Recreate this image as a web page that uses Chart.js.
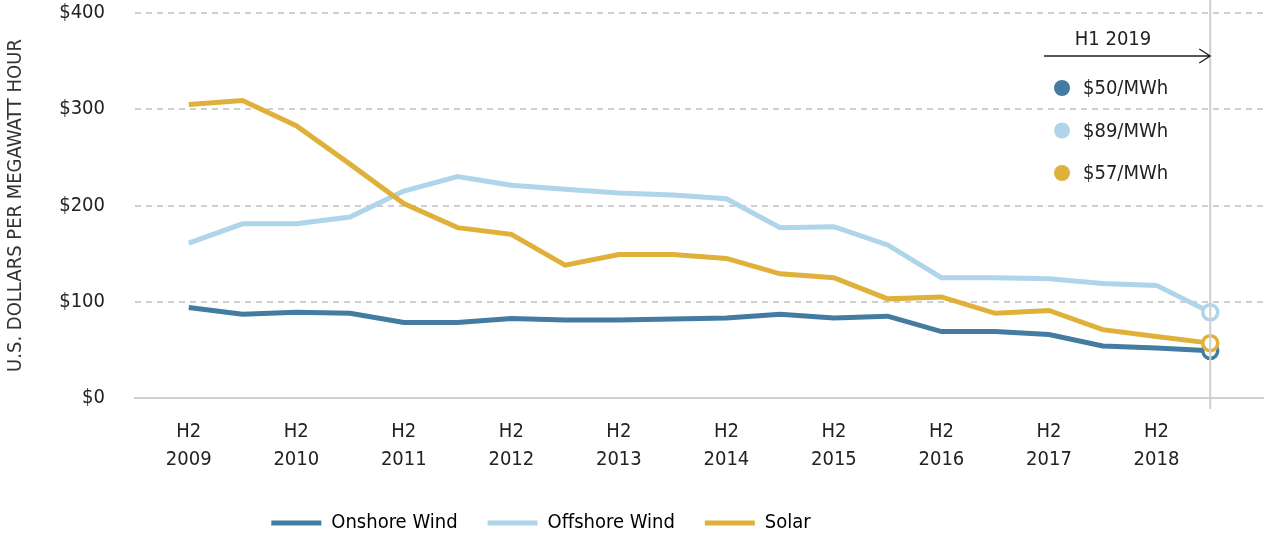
<!DOCTYPE html>
<html lang="en">
<head>
<meta charset="UTF-8">
<title>Levelized cost of energy</title>
<script src="https://cdn.jsdelivr.net/npm/chart.js"></script>
<style>
    html, body { margin: 0; padding: 0; background: #fff; }
    #wrap { width: 1264px; height: 535px; }
</style>
</head>
<body>
<div id="wrap"><canvas id="chart"></canvas></div>
<script>
// half-year periods, H2 2009 .. H1 2019
const periods = ['H2 2009', 'H1 2010', 'H2 2010', 'H1 2011', 'H2 2011', 'H1 2012', 'H2 2012', 'H1 2013',
    'H2 2013', 'H1 2014', 'H2 2014', 'H1 2015', 'H2 2015', 'H1 2016', 'H2 2016', 'H1 2017',
    'H2 2017', 'H1 2018', 'H2 2018', 'H1 2019'];
const onshore = [94, 87, 89, 88, 78.5, 78.5, 82.5, 81, 81, 82, 83, 87, 83, 85, 69, 69, 66, 54, 52, 49];
const offshore = [161, 181, 181, 188, 215, 230, 221, 217, 213, 211, 207, 177, 178, 159, 125, 125, 124, 119, 117, 89];
const solar = [305, 309, 283, 243, 202, 177, 170, 138, 149, 149, 145, 129, 125, 103, 105, 88, 91, 71, 64, 57];
const seriesNames = ['Onshore Wind', 'Offshore Wind', 'Solar'];
const latestLabels = ['$50/MWh', '$89/MWh', '$57/MWh'];
const yTicks = [0, 100, 200, 300, 400];

const colors = ['#447ba0', '#aed5ea', '#e0b13a'];
const FONT = '"DejaVu Sans Condensed", "Liberation Sans Narrow", "Roboto", sans-serif';
const last = periods.length - 1;

function toPoints(arr) {
    return arr.map((v, i) => ({ x: i, y: v }));
}

function makeSet(name, data, color, order) {
    return {
        label: name,
        data: toPoints(data),
        borderColor: color,
        backgroundColor: color,
        borderWidth: 5,
        tension: 0,
        order: order,
        clip: false,
        pointRadius: ctx => ctx.dataIndex === last ? 7.5 : 0,
        pointHoverRadius: ctx => ctx.dataIndex === last ? 7.5 : 0,
        pointBorderWidth: 3.5,
        pointBackgroundColor: '#fff',
        pointBorderColor: color
    };
}

// right hand note: H1 2019 arrow and the latest values
const notePlugin = {
    id: 'note',
    afterLayout(chart) {
        // shift the legend left and down a bit, like the original
        const lg = chart.legend;
        lg.left = 0;
        lg.right = 1082;
        lg.top += 8;
        lg.bottom += 8;
    },
    afterDatasetsDraw(chart) {
        const ctx = chart.ctx;
        const xs = chart.scales.x;
        const area = chart.chartArea;
        const xEnd = xs.getPixelForValue(last);
        ctx.save();
        // vertical marker line
        ctx.strokeStyle = '#cfcfcf';
        ctx.lineWidth = 2;
        ctx.beginPath();
        ctx.moveTo(xEnd, 0);
        ctx.lineTo(xEnd, area.bottom + 11);
        ctx.stroke();

        // arrow
        ctx.strokeStyle = '#222';
        ctx.lineWidth = 1.3;
        ctx.beginPath();
        ctx.moveTo(1044, 56);
        ctx.lineTo(xEnd, 56);
        ctx.moveTo(xEnd - 11, 49);
        ctx.lineTo(xEnd, 56);
        ctx.lineTo(xEnd - 11, 63);
        ctx.stroke();

        ctx.fillStyle = '#222';
        ctx.font = '20px ' + FONT;
        ctx.textAlign = 'center';
        ctx.textBaseline = 'middle';
        ctx.fillText('H1 2019', 1113, 40);

        ctx.textAlign = 'left';
        latestLabels.forEach((t, i) => {
            const y = 88 + i * 42.5;
            ctx.fillStyle = colors[i];
            ctx.beginPath();
            ctx.arc(1062, y, 8, 0, Math.PI * 2);
            ctx.fill();
            ctx.fillStyle = '#222';
            ctx.fillText(t, 1083, y + 1);
        });
        ctx.restore();
    }
};

new Chart(document.getElementById('chart'), {
    type: 'line',
    data: {
        datasets: [
            makeSet(seriesNames[0], onshore, colors[0], 2),
            makeSet(seriesNames[1], offshore, colors[1], 1),
            makeSet(seriesNames[2], solar, colors[2], 0)
        ]
    },
    options: {
        responsive: true,
        maintainAspectRatio: false,
        animation: false,
        layout: { autoPadding: false, padding: { top: 13, right: 0, left: 0, bottom: 0 } },
        scales: {
            x: {
                type: 'linear',
                min: -1,
                max: periods.length,
                grid: { display: false, drawTicks: false },
                border: { display: true, color: '#cfcfcf', width: 2 },
                afterBuildTicks(scale) {
                    scale.ticks = periods.map((p, i) => ({ value: i }));
                },
                afterFit(scale) {
                    scale.height = 77;
                    scale.paddingLeft = 0;
                    scale.paddingRight = 0;
                },
                ticks: {
                    autoSkip: false,
                    maxRotation: 0,
                    padding: 20,
                    color: '#222',
                    font: { family: FONT, size: 20, lineHeight: 1.4 },
                    callback: v => (v % 2 === 0 && periods[v]) ? periods[v].split(' ') : ''
                }
            },
            y: {
                min: 0,
                max: 400,
                afterBuildTicks(scale) {
                    scale.ticks = yTicks.map(v => ({ value: v }));
                },
                afterFit(scale) {
                    scale.width = 135;
                    scale.paddingTop = 0;
                    scale.paddingBottom = 0;
                },
                grid: { color: '#cfcfcf', lineWidth: 2, drawTicks: false },
                border: { display: false, dash: [6, 5] },
                ticks: {
                    padding: 30,
                    color: '#222',
                    font: { family: FONT, size: 20 },
                    callback: v => '$' + v
                },
                title: {
                    display: true,
                    text: 'U.S. DOLLARS PER MEGAWATT HOUR',
                    color: '#333',
                    padding: { top: 4, bottom: 0 },
                    font: { family: FONT, size: 20 }
                }
            }
        },
        plugins: {
            legend: {
                position: 'bottom',
                labels: {
                    boxWidth: 50,
                    boxHeight: 5,
                    padding: 30,
                    color: '#222',
                    font: { family: FONT, size: 20 },
                    sort: (a, b) => a.datasetIndex - b.datasetIndex,
                    generateLabels: chart => chart.data.datasets.map((ds, i) => ({
                        text: ds.label,
                        fillStyle: ds.borderColor,
                        strokeStyle: ds.borderColor,
                        lineWidth: 0,
                        hidden: false,
                        datasetIndex: i
                    }))
                }
            },
            tooltip: { enabled: false }
        }
    },
    plugins: [notePlugin]
});
</script>
</body>
</html>
